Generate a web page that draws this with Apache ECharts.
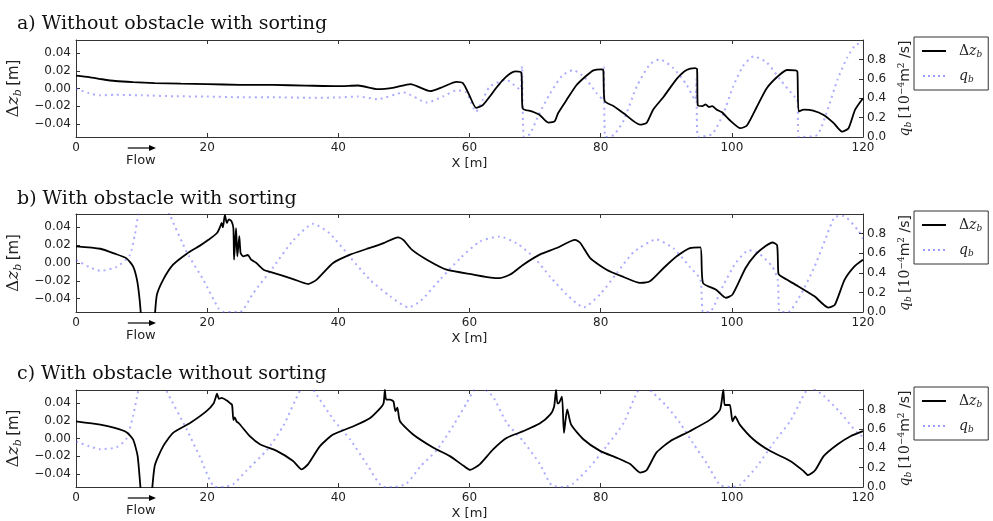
<!DOCTYPE html>
<html>
<head>
<meta charset="utf-8">
<script src="https://cdn.jsdelivr.net/npm/echarts@6/dist/echarts.min.js"></script>
<style>html,body{margin:0;padding:0;background:#fff;}#c{width:993px;height:521px;}</style>
</head>
<body>
<div id="c"></div>
<script>
// ---------- data ----------
const titles = ['a) Without obstacle with sorting', 'b) With obstacle with sorting', 'c) With obstacle without sorting'];
const xTicks = [0, 20, 40, 60, 80, 100, 120];
const dzTicks = [-0.04, -0.02, 0, 0.02, 0.04];
const qTicks = [0, 0.2, 0.4, 0.6, 0.8];

// panel a: bed change
const aX  = [0, 2, 4, 6, 8.7, 12, 16, 20, 25, 30, 35, 40, 43, 46, 48.5, 51, 54, 56, 58, 59, 60, 61, 62, 63, 64, 65, 66, 67, 67.9, 68.1,
             69.5, 70.7, 72, 73, 73.5, 74.8, 76.3, 77.9, 78.9, 80.1, 80.4, 80.6,
             82, 83.5, 86, 87, 88, 89.6, 91.6, 93.1, 94.4, 94.7, 94.8,
             95.5, 96, 96.5, 97, 97.7, 98.5, 99.7, 101.3, 102.3, 103.8, 105.3, 106.9, 108.4, 109.7, 110.0, 110.2,
             111, 112.4, 114, 115.5, 116.8, 117.8, 118.8, 120];
const aDz = [0.0146, 0.013, 0.0105, 0.0085, 0.0072, 0.0062, 0.0055, 0.0049, 0.0042, 0.0040, 0.0033, 0.0026, 0.0034, -0.0008, 0.001, 0.005, -0.003, 0.002, 0.0075, 0.006, -0.008, -0.022, -0.019, -0.010, 0.0, 0.009, 0.016, 0.0195, 0.018, -0.0225,
             -0.026, -0.030, -0.0386, -0.037, -0.028, -0.013, 0.0037, 0.015, 0.0206, 0.0217, 0.021, -0.014,
             -0.020, -0.028, -0.041, -0.039, -0.024, -0.0094, 0.011, 0.021, 0.023, 0.022, -0.019,
             -0.020, -0.018, -0.021, -0.020, -0.024, -0.027, -0.036, -0.045, -0.042, -0.021, 0.0, 0.013, 0.021, 0.0205, 0.019, -0.026,
             -0.024, -0.025, -0.030, -0.039, -0.049, -0.045, -0.024, -0.011];
// panel a: sediment transport
const aQX = [0, 2, 3.6, 6, 10, 15, 20, 25, 30, 35, 40, 43, 46, 50, 53.5, 56, 58, 59.5, 61, 62, 63.1, 65.6, 67.7, 68.0, 68.3,
             69.2, 70.7, 72.3, 74.1, 75.8, 77.6, 79.4, 80.4, 80.5, 80.7,
             82, 83.5, 85.5, 87.5, 89.0, 91.1, 93.1, 94.4, 94.6, 94.8,
             97, 98.7, 100.2, 101.7, 103.3, 105.3, 107.4, 109.5, 110.0, 110.2,
             113, 114.6, 116.1, 117.6, 119.1, 120];
const aQ  = [0.50, 0.45, 0.43, 0.435, 0.43, 0.42, 0.417, 0.41, 0.41, 0.405, 0.407, 0.417, 0.39, 0.459, 0.355, 0.42, 0.48, 0.46, 0.26, 0.38, 0.52, 0.59, 0.49, 0.73, 0.0,
             0.03, 0.25, 0.45, 0.63, 0.69, 0.61, 0.45, 0.38, 0.72, 0.0,
             0.02, 0.17, 0.52, 0.75, 0.80, 0.71, 0.54, 0.38, 0.60, 0.0,
             0.03, 0.24, 0.52, 0.73, 0.83, 0.77, 0.59, 0.42, 0.40, 0.0,
             0.02, 0.28, 0.59, 0.82, 0.96, 0.94];

// panel b: bed change
const bX  = [0, 3.7, 5.9, 7.7, 8.7, 9.3, 9.7, 10.3, 11.0, 11.7, 12.3, 13.3, 14.8, 16.9, 18.9, 20.2,
             21.5, 22.0, 22.2, 22.4, 22.7, 23.0, 23.3, 23.7, 24.0, 24.1, 24.4, 24.6, 24.9, 25.1, 25.5, 26.2, 26.7, 27.5, 28.6,
             30.1, 33.1, 35.4, 36.7, 39.2, 41.8, 44.3, 46.9, 49.1, 49.9, 51.2, 53.5, 56.5, 60.6, 63.6, 64.6, 66.2,
             68.2, 70.7, 73.3, 76.1, 76.9, 78.4, 80.9, 83.5, 86.0, 87.5, 89.6, 91.6, 93.6, 95.2, 95.6,
             97.6, 99.1, 100.1, 102.1, 103.6, 105.1, 106.2, 106.9, 107.1, 107.5, 110.1, 112.6, 114.7, 115.7, 117.2, 118.7, 120];
const bDz = [0.0187, 0.016, 0.0105, 0.0052, -0.0037, -0.019, -0.041, -0.09, -0.11, -0.09, -0.037, -0.0187, -0.0019, 0.0105, 0.0195, 0.026,
             0.0337, 0.041, 0.045, 0.040, 0.054, 0.045, 0.049, 0.047, 0.039, 0.0037, 0.039, 0.0075, 0.030, 0.011, 0.0075, 0.009, 0.0037, 0.0, -0.0075,
             -0.011, -0.018, -0.0236, -0.0187, 0.0, 0.0094, 0.0157, 0.0224, 0.0288, 0.026, 0.015, 0.0037, -0.0075, -0.013, -0.0168, -0.017, -0.013,
             -0.0019, 0.0094, 0.0168, 0.026, 0.0224, 0.0056, -0.0075, -0.0157, -0.0224, -0.0206, -0.0056, 0.0075, 0.0168, 0.0176, -0.0224,
             -0.030, -0.039, -0.0355, -0.0056, 0.0094, 0.0187, 0.023, 0.020, -0.012, -0.015, -0.026, -0.0374, -0.050, -0.047, -0.0187, -0.0037, 0.0037];
// panel b: sediment transport
const bQX = [0, 2, 3.7, 6.2, 8.2, 9.0, 9.5, 11.5, 14.3, 16.9, 19.4, 21.7, 22.5, 25.0, 27.0, 30.1, 33.1, 36.2, 38.7, 41.8, 44.8, 47.9, 50.7, 52.5,
             55.5, 58.6, 61.6, 64.6, 67.2, 69.8, 72.3, 74.8, 77.4, 79.9, 82.5, 85.0, 88.5, 91.1, 93.6, 95.2, 95.6, 96.6,
             98.6, 100.6, 102.6, 104.1, 106.2, 107.0, 107.3, 108.6, 110.6, 112.6, 114.2, 115.7, 117.0, 119.3, 120];
const bQ  = [0.53, 0.46, 0.42, 0.46, 0.58, 0.80, 0.99, 1.4, 0.99, 0.61, 0.33, 0.04, 0.0, 0.0, 0.19, 0.46, 0.73, 0.90, 0.80, 0.56, 0.33, 0.16, 0.047, 0.11,
             0.33, 0.55, 0.72, 0.77, 0.70, 0.56, 0.36, 0.18, 0.047, 0.18, 0.40, 0.61, 0.74, 0.65, 0.46, 0.33, 0.0, 0.0,
             0.26, 0.50, 0.63, 0.60, 0.46, 0.33, 0.0, 0.0, 0.19, 0.46, 0.73, 0.97, 0.98, 0.83, 0.75];

// panel c: bed change
const cX  = [0, 3.7, 5.9, 7.7, 8.7, 9.4, 10.0, 10.6, 11.2, 12.0, 13.3, 14.8, 17.4, 19.9, 21.0, 21.3, 21.5, 21.8, 22.2, 23.0, 23.5, 23.8, 24.0, 24.2, 24.5, 24.8,
             26.5, 28.1, 30.6, 33.1, 34.4, 35.4, 37.2, 39.2, 42.3, 44.8, 46.4, 46.9, 47.1, 47.3, 47.9, 48.4, 48.7, 49.0, 49.4,
             51.4, 54.5, 57.0, 59.1, 60.1, 61.6, 63.6, 65.7, 68.2, 70.7, 72.3, 72.9, 73.2, 73.4, 73.6, 74.1, 74.4, 74.9, 75.5,
             77.4, 79.9, 82.5, 84.5, 86.0, 87.0, 88.5, 90.6, 93.6, 96.7, 98.2, 98.7, 98.9, 99.2, 99.7, 100.1, 100.5, 101.2,
             103.3, 105.8, 108.9, 110.9, 111.6, 112.7, 114.0, 116.1, 118.1, 120];
const cDz = [0.0195, 0.0157, 0.012, 0.0071, -0.001, -0.020, -0.07, -0.10, -0.09, -0.031, -0.0086, 0.0064, 0.0176, 0.031, 0.040, 0.0465, 0.051, 0.045, 0.046, 0.043, 0.040, 0.038, 0.021, 0.024, 0.019, 0.0176,
             0.0026, -0.0068, -0.014, -0.0255, -0.035, -0.029, -0.0086, 0.0045, 0.0139, 0.023, 0.0345, 0.040, 0.055, 0.044, 0.044, 0.042, 0.031, 0.035, 0.0195,
             0.0045, -0.0105, -0.020, -0.031, -0.0356, -0.029, -0.0124, 0.0008, 0.0083, 0.0169, 0.027, 0.036, 0.055, 0.040, 0.040, 0.0476, 0.0064, 0.033, 0.0158,
             -0.0011, -0.014, -0.022, -0.029, -0.0386, -0.036, -0.016, -0.003, 0.0083, 0.0214, 0.0326, 0.055, 0.038, 0.038, 0.038, 0.0195, 0.025, 0.0158,
             -0.0011, -0.014, -0.0255, -0.0367, -0.0416, -0.036, -0.020, -0.0068, 0.0026, 0.0083];
// panel c: sediment transport
const cQX = [0, 2, 3.7, 6.2, 7.7, 8.7, 9.5, 10.7, 13.8, 16.9, 18.9, 21.2, 22.5, 24.0, 26.0, 29.1, 31.6, 34.2, 35.2, 36.2, 39.2, 41.8, 44.3, 46.9, 48.5,
             50.4, 52.5, 55.0, 57.5, 59.6, 60.6, 61.5, 62.5, 63.6, 65.7, 68.2, 70.7, 72.5, 74.5, 75.8, 78.4, 80.9, 83.5, 85.5, 86.5, 88.0,
             90.1, 92.1, 94.1, 96.2, 98.2, 100.0, 101.2, 103.8, 106.3, 108.9, 110.9, 111.9, 114.0, 116.5, 119.1, 120];
const cQ  = [0.47, 0.42, 0.39, 0.41, 0.50, 0.73, 1.0, 1.41, 0.99, 0.59, 0.31, 0.0, 0.0, 0.03, 0.17, 0.38, 0.63, 1.0, 1.08, 1.0, 0.70, 0.49, 0.24, 0.0, 0.0,
             0.035, 0.21, 0.38, 0.63, 0.87, 0.99, 1.06, 1.0, 0.93, 0.66, 0.47, 0.24, 0.02, 0.0, 0.035, 0.21, 0.42, 0.66, 0.97, 1.05, 0.97,
             0.83, 0.66, 0.45, 0.24, 0.02, 0.0, 0.02, 0.21, 0.45, 0.68, 0.94, 1.03, 0.94, 0.77, 0.56, 0.52];

// ---------- chart ----------
const zip = (xs, ys) => xs.map((x, i) => [x, ys[i]]);
const panels = [
  { dz: zip(aX, aDz), q: zip(aQX, aQ), top: 40, height: 97 },
  { dz: zip(bX, bDz), q: zip(bQX, bQ), top: 214, height: 98 },
  { dz: zip(cX, cDz), q: zip(cQX, cQ), top: 390, height: 97 }
];
const sans = 'DejaVu Sans';
const serif = 'DejaVu Serif';
const axisCol = '#333';
const qCol = 'rgba(90,90,255,0.5)';
const fmtDz = v => (v < 0 ? '\u2212' : '') + Math.abs(v).toFixed(2);
const fmtQ = v => v.toFixed(1);
const richMath = {
  r: { fontFamily: serif, fontSize: 14, color: '#222' },
  m: { fontFamily: serif, fontStyle: 'italic', fontSize: 14, color: '#222' },
  s: { fontFamily: serif, fontStyle: 'italic', fontSize: 9, color: '#222', padding: [7, 0, 0, 0] },
  p: { fontFamily: serif, fontSize: 9, color: '#222', padding: [0, 0, 7, 0] },
  t: { fontFamily: sans, fontSize: 14, color: '#222' }
};
const richLeft = {
  r: { fontFamily: serif, fontSize: 17, color: '#222' },
  m: { fontFamily: serif, fontStyle: 'italic', fontSize: 17, color: '#222' },
  s: { fontFamily: serif, fontStyle: 'italic', fontSize: 11, color: '#222', padding: [8, 0, 0, 0] },
  t: { fontFamily: sans, fontSize: 15, color: '#222' }
};
const dotIcon = 'path://M0,0h2v2h-2zM5,0h2v2h-2zM10,0h2v2h-2zM15,0h2v2h-2zM20,0h2v2h-2z';

const grid = [], xAxis = [], yAxis = [], series = [], title = [], legend = [];
const titleTops = [10, 185, 360];
panels.forEach((p, i) => {
  grid.push({ left: 76, top: p.top, width: 787, height: p.height, show: false, containLabel: false, outerBoundsMode: 'none' });
  title.push({ text: titles[i], left: 12, top: titleTops[i],
    textStyle: { fontFamily: serif, fontWeight: 'normal', fontSize: 19, color: '#111' } });
  const tickStyle = { show: true, inside: true, length: 4, lineStyle: { color: axisCol } };
  xAxis.push({ type: 'value', gridIndex: i, min: 0, max: 120, interval: 20, position: 'bottom',
    axisLine: { show: true, onZero: false, lineStyle: { color: axisCol, width: 1 } },
    axisTick: tickStyle, splitLine: { show: false },
    axisLabel: { fontFamily: sans, fontSize: 12, color: '#222', margin: 5 },
    name: 'X [m]', nameLocation: 'middle', nameGap: 20,
    nameTextStyle: { fontFamily: sans, fontSize: 13, color: '#222' } });
  xAxis.push({ type: 'value', gridIndex: i, min: 0, max: 120, interval: 20, position: 'top',
    axisLine: { show: true, onZero: false, lineStyle: { color: axisCol, width: 1 } },
    axisTick: tickStyle, axisLabel: { show: false }, splitLine: { show: false } });
  yAxis.push({ type: 'value', gridIndex: i, min: -0.055, max: 0.055, position: 'left',
    axisLine: { show: true, onZero: false, lineStyle: { color: axisCol, width: 1 } },
    axisTick: Object.assign({}, tickStyle, { customValues: dzTicks }),
    axisLabel: { customValues: dzTicks, formatter: fmtDz, fontFamily: sans, fontSize: 12, color: '#222', margin: 5 },
    splitLine: { show: false },
    name: '{r|\u0394}{m|z}{s|b} {t|[m]}', nameLocation: 'middle', nameRotate: 90, nameGap: 38,
    nameTextStyle: { rich: richLeft } });
  yAxis.push({ type: 'value', gridIndex: i, min: 0, max: 1.0, position: 'right',
    axisLine: { show: true, onZero: false, lineStyle: { color: axisCol, width: 1 } },
    axisTick: Object.assign({}, tickStyle, { customValues: qTicks }),
    axisLabel: { customValues: qTicks, formatter: fmtQ, fontFamily: sans, fontSize: 12, color: '#222', margin: 4 },
    splitLine: { show: false },
    name: '{m|q}{s|b} {r|[10}{p|\u22124}{t|m}{p|2}{t| /s]}', nameLocation: 'middle', nameRotate: 90, nameGap: 27,
    nameTextStyle: { rich: richMath } });
  series.push({ name: 'dz', type: 'line', xAxisIndex: 2 * i, yAxisIndex: 2 * i, data: p.dz,
    symbol: 'none', clip: true, smooth: 0.2,
    lineStyle: { color: '#000', width: 1.8 }, itemStyle: { color: '#000' }, z: 3 });
  series.push({ name: 'qb', type: 'line', xAxisIndex: 2 * i, yAxisIndex: 2 * i + 1, data: p.q,
    symbol: 'none', clip: true, smooth: 0.2,
    lineStyle: { color: qCol, width: 2, type: [2, 4] },
    itemStyle: { color: qCol }, z: 2 });
  legend.push({ left: 914, top: p.top - 3, orient: 'vertical',
    data: [{ name: 'dz', icon: 'rect', itemStyle: { color: '#000' } },
           { name: 'qb', icon: dotIcon, itemStyle: { color: 'rgba(90,90,255,0.6)' } }],
    borderColor: '#333', borderWidth: 1, borderRadius: 0, padding: [7, 6, 6, 8],
    itemWidth: 24, itemHeight: 2, itemGap: 10, selectedMode: false,
    formatter: n => n === 'dz' ? '{r|\u0394}{m|z}{s|b}' : '{m|q}{s|b}',
    textStyle: { padding: [0, 0, 0, 8], rich: richMath } });
});

const chart = echarts.init(document.getElementById('c'), null, { renderer: 'canvas' });
chart.setOption({ animation: false, backgroundColor: '#fff', title, grid, xAxis, yAxis, series, legend });

// "Flow" arrow annotation below each x axis
const graphic = [];
panels.forEach((p, i) => {
  const x0 = chart.convertToPixel({ xAxisIndex: 2 * i }, 7.9);
  const x1 = chart.convertToPixel({ xAxisIndex: 2 * i }, 12.2);
  const y = p.top + p.height + 11;
  graphic.push({ type: 'line', shape: { x1: x0, y1: y, x2: x1 - 5, y2: y }, style: { stroke: '#000', lineWidth: 1.2 } });
  graphic.push({ type: 'polygon', shape: { points: [[x1, y], [x1 - 7, y - 3], [x1 - 7, y + 3]] }, style: { fill: '#000' } });
  graphic.push({ type: 'text', x: (x0 + x1) / 2 - 1, y: y + 13, style: { text: 'Flow', fontFamily: sans, fontSize: 13,
    fill: '#222', align: 'center', verticalAlign: 'middle' } });
});
chart.setOption({ graphic });
</script>
</body>
</html>
